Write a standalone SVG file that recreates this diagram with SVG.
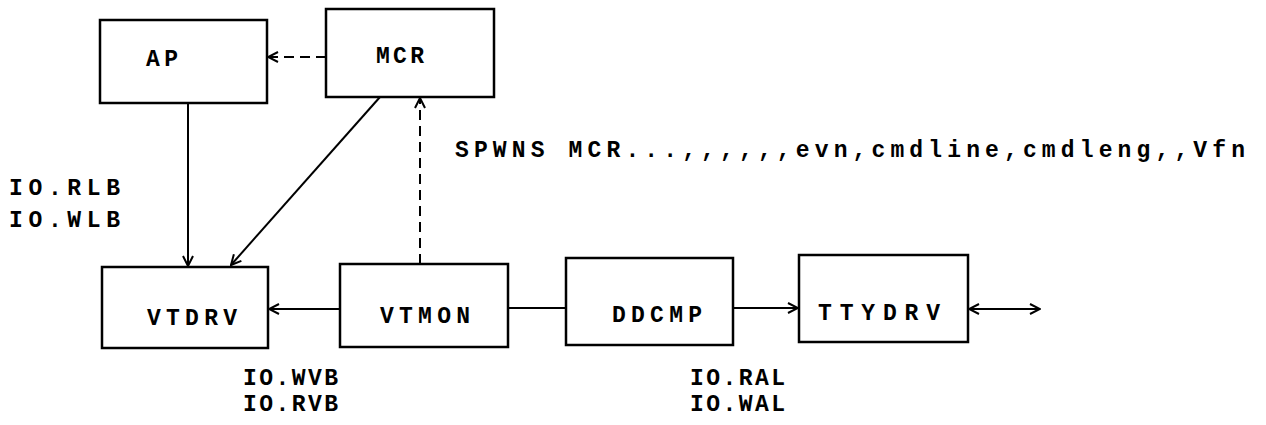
<svg xmlns="http://www.w3.org/2000/svg" width="1266" height="425" viewBox="0 0 1266 425">
<style>
.box{fill:none;stroke:#000;stroke-width:2.5}
.lbl{font-family:"Liberation Mono","Courier New",monospace;font-size:23px;font-weight:bold;fill:#000}
.txt{font-family:"Liberation Mono","Courier New",monospace;font-size:23px;font-weight:bold;fill:#000}
.ln{fill:none;stroke:#000;stroke-width:2}
.dash{stroke-dasharray:10 6}
</style>
<defs>
<marker id="ah" viewBox="0 0 12 12" refX="11" refY="6" markerWidth="12" markerHeight="12" markerUnits="userSpaceOnUse" orient="auto-start-reverse">
<path d="M1,1 L11,6 L1,11" fill="none" stroke="#000" stroke-width="2"/>
</marker>
</defs>
<rect width="1266" height="425" fill="#fff"/>
<g id="connectors">
<line class="ln dash" x1="326" y1="57" x2="268" y2="57" marker-end="url(#ah)"/>
<line class="ln" x1="188" y1="103" x2="188" y2="266" marker-end="url(#ah)"/>
<line class="ln" x1="380" y1="97" x2="231" y2="265" marker-end="url(#ah)"/>
<line class="ln dash" x1="420" y1="264" x2="420" y2="98" marker-end="url(#ah)"/>
<line class="ln" x1="340" y1="309" x2="269" y2="309" marker-end="url(#ah)"/>
<line class="ln" x1="508" y1="308" x2="566" y2="308"/>
<line class="ln" x1="733" y1="308" x2="798" y2="308" marker-end="url(#ah)"/>
<line class="ln" x1="969" y1="309" x2="1040" y2="309" marker-start="url(#ah)" marker-end="url(#ah)"/>
</g>
<g id="node-ap">
<rect class="box" x="100" y="20" width="167" height="83"/>
<text class="lbl" x="146" y="66" textLength="32" lengthAdjust="spacing">AP</text>
</g>
<g id="node-mcr">
<rect class="box" x="326" y="9" width="168" height="88"/>
<text class="lbl" x="376" y="63" textLength="48" lengthAdjust="spacing">MCR</text>
</g>
<g id="node-vtdrv">
<rect class="box" x="102" y="267" width="166" height="81"/>
<text class="lbl" x="147" y="325" textLength="90" lengthAdjust="spacing">VTDRV</text>
</g>
<g id="node-vtmon">
<rect class="box" x="340" y="264" width="168" height="83"/>
<text class="lbl" x="380" y="323" textLength="90" lengthAdjust="spacing">VTMON</text>
</g>
<g id="node-ddcmp">
<rect class="box" x="566" y="258" width="167" height="87"/>
<text class="lbl" x="612" y="322" textLength="90" lengthAdjust="spacing">DDCMP</text>
</g>
<g id="node-ttydrv">
<rect class="box" x="799" y="255" width="169" height="87"/>
<text class="lbl" x="818" y="320" textLength="122" lengthAdjust="spacing">TTYDRV</text>
</g>
<g id="labels">
<text class="txt" x="455" y="157" textLength="790" lengthAdjust="spacing">SPWNS MCR...,,,,,,evn,cmdline,cmdleng,,Vfn</text>
<text class="txt" x="9" y="195" textLength="111" lengthAdjust="spacing">IO.RLB</text>
<text class="txt" x="9" y="227" textLength="111" lengthAdjust="spacing">IO.WLB</text>
<text class="txt" x="243" y="385" textLength="95" lengthAdjust="spacing">IO.WVB</text>
<text class="txt" x="243" y="411" textLength="95" lengthAdjust="spacing">IO.RVB</text>
<text class="txt" x="690" y="385" textLength="95" lengthAdjust="spacing">IO.RAL</text>
<text class="txt" x="690" y="411" textLength="95" lengthAdjust="spacing">IO.WAL</text>
</g>
</svg>
